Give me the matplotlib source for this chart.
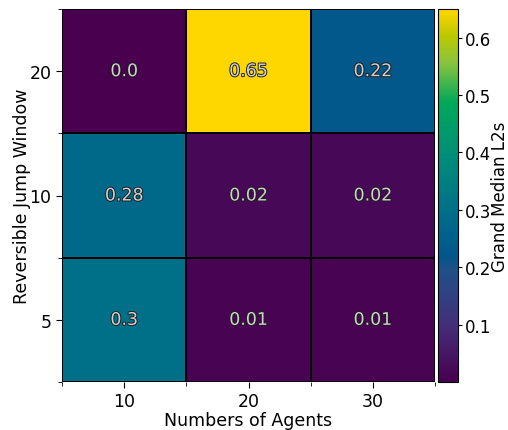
import numpy as np
import matplotlib.pyplot as plt
import matplotlib.patheffects as pe
from matplotlib.colors import LinearSegmentedColormap

agents = [10, 20, 30]
windows = [5, 10, 20]
# rows follow windows (bottom to top), columns follow agents
l2s = np.array([
    [0.30, 0.01, 0.01],
    [0.28, 0.02, 0.02],
    [0.00, 0.65, 0.22],
])

# saturated viridis-like map
cmap = LinearSegmentedColormap.from_list('vivid', [
    (0.00, '#48004f'),
    (0.15, '#442e78'),
    (0.30, '#205088'),
    (0.34, '#00578b'),
    (0.45, '#006d89'),
    (0.60, '#008c7a'),
    (0.75, '#00a85a'),
    (0.86, '#8cc43c'),
    (0.93, '#bcc800'),
    (1.00, '#ffd700'),
])

fig = plt.figure(figsize=(5.08, 4.31), dpi=100)
ax = fig.add_axes([62/508, 48/431, 373/508, 373/431])
cax = fig.add_axes([438/508, 48/431, 20/508, 373/431])

mesh = ax.pcolormesh(np.arange(4), np.arange(4), l2s, cmap=cmap,
                     vmin=0, vmax=l2s.max(), edgecolors='k', linewidth=1.2)

for i in range(len(windows)):
    for j in range(len(agents)):
        ax.text(j + 0.5, i + 0.5, str(round(l2s[i, j], 2)), ha='center', va='center',
                fontsize=12.5, color='#d0d0d0',
                path_effects=[pe.withStroke(linewidth=1.4, foreground='#202020')])

ax.set_xticks(np.arange(3) + 0.5)
ax.set_xticklabels(agents)
ax.set_yticks(np.arange(3) + 0.5)
ax.set_yticklabels(windows)
ax.set_xticks(np.arange(4), minor=True)
ax.set_yticks(np.arange(4), minor=True)
ax.tick_params(which='major', labelsize=12.5, length=4)
ax.tick_params(which='minor', length=3)
for s in ax.spines.values():
    s.set_visible(False)
ax.set_xlim(0, 3)
ax.set_ylim(0, 3)
ax.set_xlabel('Numbers of Agents', fontsize=12.5)
ax.set_ylabel('Reversible Jump Window', fontsize=12.5)
ax.xaxis.set_label_coords(0.5, -0.078)
ax.yaxis.set_label_coords(-0.084, 0.5)

cb = fig.colorbar(mesh, cax=cax)
cb.set_ticks([0.1, 0.2, 0.3, 0.4, 0.5, 0.6])
cb.ax.tick_params(labelsize=12, length=3, pad=2)
cb.set_label('Grand Median L2s', fontsize=12)
cb.ax.yaxis.set_label_coords(2.65, 0.5)

fig.savefig('out.png', dpi=100)
